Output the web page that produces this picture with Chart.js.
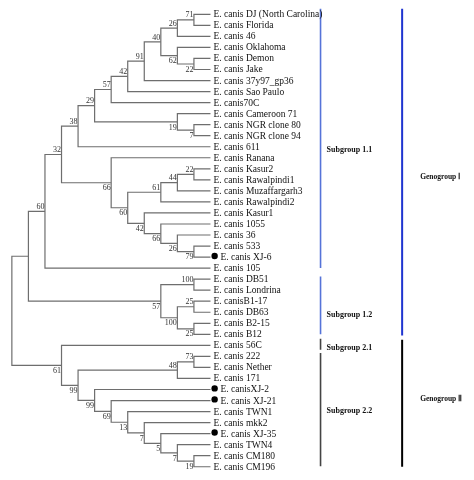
<!DOCTYPE html>
<html>
<head>
<meta charset="utf-8">
<script src="https://cdn.jsdelivr.net/npm/chart.js@4.4.0/dist/chart.umd.min.js"></script>
<style>
html, body { margin: 0; padding: 0; background: #fff; }
#wrap { width: 474px; height: 480px; }
</style>
</head>
<body>
<div id="wrap"><canvas id="tree"></canvas></div>
<script>
// Tip labels, top to bottom (row index = position on the y axis)
const leaves = [
    'E. canis DJ (North Carolina)', 'E. canis Florida', 'E. canis 46', 'E. canis Oklahoma',
    'E. canis Demon', 'E. canis Jake', 'E. canis 37y97_gp36', 'E. canis Sao Paulo',
    'E. canis70C', 'E. canis Cameroon 71', 'E. canis NGR clone 80', 'E. canis NGR clone 94',
    'E. canis 611', 'E. canis Ranana', 'E. canis Kasur2', 'E. canis Rawalpindi1',
    'E. canis Muzaffargarh3', 'E. canis Rawalpindi2', 'E. canis Kasur1', 'E. canis 1055',
    'E. canis 36', 'E. canis 533', 'E. canis XJ-6', 'E. canis 105',
    'E. canis DB51', 'E. canis Londrina', 'E. canisB1-17', 'E. canis DB63',
    'E. canis B2-15', 'E. canis B12', 'E. canis 56C', 'E. canis 222',
    'E. canis Nether', 'E. canis 171', 'E. canisXJ-2', 'E. canis XJ-21',
    'E. canis TWN1', 'E. canis mkk2', 'E. canis XJ-35', 'E. canis TWN4',
    'E. canis CM180', 'E. canis CM196'
];

// Strains marked with a black dot
const marked = [22, 34, 35, 38];

// Clades in post-order: [id, child A, child B, bootstrap, label side]
// a child is a leaf row (number) or a clade id (string)
const clades = [
    ['c71', 0, 1, 71, 'up'],
    ['c26', 'c71', 2, 26, 'up'],
    ['c22a', 4, 5, 22, 'down'],
    ['c62', 3, 'c22a', 62, 'down'],
    ['c40', 'c26', 'c62', 40, 'up'],
    ['c91', 'c40', 6, 91, 'up'],
    ['c42a', 'c91', 7, 42, 'up'],
    ['c57a', 'c42a', 8, 57, 'up'],
    ['c7a', 10, 11, 7, 'down'],
    ['c19a', 9, 'c7a', 19, 'down'],
    ['c29', 'c57a', 'c19a', 29, 'up'],
    ['c38', 'c29', 12, 38, 'up'],
    ['c22b', 14, 15, 22, 'up'],
    ['c44', 'c22b', 16, 44, 'up'],
    ['c61a', 'c44', 17, 61, 'up'],
    ['c79', 21, 22, 79, 'down'],
    ['c26b', 20, 'c79', 26, 'down'],
    ['c66b', 19, 'c26b', 66, 'down'],
    ['c42b', 18, 'c66b', 42, 'down'],
    ['c60b', 'c61a', 'c42b', 60, 'down'],
    ['c66a', 13, 'c60b', 66, 'down'],
    ['c32', 'c38', 'c66a', 32, 'up'],
    ['c60a', 'c32', 23, 60, 'up'],
    ['c100a', 24, 25, 100, 'up'],
    ['c25a', 26, 27, 25, 'up'],
    ['c25b', 28, 29, 25, 'down'],
    ['c100b', 'c25a', 'c25b', 100, 'down'],
    ['c57b', 'c100a', 'c100b', 57, 'down'],
    ['cG1', 'c60a', 'c57b', null, null],
    ['c73', 31, 32, 73, 'up'],
    ['c48', 'c73', 33, 48, 'up'],
    ['c19b', 40, 41, 19, 'down'],
    ['c7b', 39, 'c19b', 7, 'down'],
    ['c5', 38, 'c7b', 5, 'down'],
    ['c7c', 37, 'c5', 7, 'down'],
    ['c13', 36, 'c7c', 13, 'down'],
    ['c69', 35, 'c13', 69, 'down'],
    ['c99b', 34, 'c69', 99, 'down'],
    ['c99a', 'c48', 'c99b', 99, 'down'],
    ['c61b', 30, 'c99a', 61, 'down'],
    ['root', 'cG1', 'c61b', null, null]
];

// Group brackets on the right (extent and label in leaf rows)
const groupNames = ['Subgroup 1.1', 'Subgroup 1.2', 'Subgroup 2.1', 'Subgroup 2.2', 'Genogroup Ⅰ', 'Genogroup Ⅱ'];
const groupFrom = [-0.5, 23.75, 29.4, 30.7, -0.5, 29.5];
const groupTo = [23, 29, 30.4, 40.95, 29.1, 41];
const groupLabelRow = [12.3, 27.2, 30.25, 35.9, 14.75, 34.9];
const groupLevel = [1, 1, 1, 1, 2, 2];

// styles / layout
const TREE_COLOR = '#6e6e6e';
const GROUP_COLORS = ['#5573d8', '#5573d8', '#444444', '#444444', '#1f35d0', '#000000'];
const BAR_X = { 1: 18.65, 2: 23.58 };
const LABEL_DX = { 1: 6, 2: 18 };
const LABEL_FONT = { 1: 'bold 8px ', 2: 'bold 7.5px ' };
const SERIF = '"Liberation Serif", "Times New Roman", serif';

// build node heights (cladogram) and row positions
const info = {};
function node(k) {
    return typeof k === 'number' ? { h: 0, y: k } : info[k];
}
clades.forEach(([id, a, b, boot, side]) => {
    const na = node(a), nb = node(b);
    info[id] = { h: Math.max(na.h, nb.h) + 1, y: (na.y + nb.y) / 2, a: na, b: nb, boot: boot, side: side };
});
const rootH = info.root.h;
const X = n => rootH - n.h;

const treeSets = clades.map(([id]) => {
    const n = info[id];
    return {
        data: [
            { x: X(n.a), y: n.a.y },
            { x: X(n), y: n.a.y },
            { x: X(n), y: n.b.y },
            { x: X(n.b), y: n.b.y }
        ],
        showLine: true,
        borderColor: TREE_COLOR,
        borderWidth: 1.2,
        pointRadius: 0,
        tension: 0
    };
});

const groupSets = groupNames.map((g, i) => ({
    data: [
        { x: BAR_X[groupLevel[i]], y: groupFrom[i] },
        { x: BAR_X[groupLevel[i]], y: groupTo[i] }
    ],
    showLine: true,
    borderColor: GROUP_COLORS[i],
    borderWidth: groupLevel[i] === 2 ? 2 : 1.6,
    pointRadius: 0
}));

const dotSet = {
    data: marked.map(i => ({ x: rootH + 0.25, y: i - 0.1 })),
    showLine: false,
    pointRadius: 3.2,
    pointBackgroundColor: '#000',
    pointBorderWidth: 0
};

const treeText = {
    id: 'treeText',
    afterDatasetsDraw(chart) {
        const { ctx, scales } = chart;
        const sx = scales.x, sy = scales.y;
        ctx.save();

        // tip labels
        ctx.font = '9.5px ' + SERIF;
        ctx.fillStyle = '#111';
        ctx.textAlign = 'left';
        ctx.textBaseline = 'middle';
        leaves.forEach((name, i) => {
            const dx = marked.includes(i) ? 10 : 3;
            ctx.fillText(name, sx.getPixelForValue(rootH) + dx, sy.getPixelForValue(i) + 0.5);
        });

        // bootstrap values
        ctx.font = '8px ' + SERIF;
        ctx.fillStyle = '#333';
        ctx.textAlign = 'right';
        clades.forEach(([id]) => {
            const n = info[id];
            if (n.boot === null) return;
            const px = sx.getPixelForValue(X(n)) - 0.5;
            const py = sy.getPixelForValue(n.y) + (n.side === 'up' ? -4.5 : 5.5);
            ctx.fillText(String(n.boot), px, py);
        });

        // group labels
        ctx.fillStyle = '#111';
        ctx.textAlign = 'left';
        groupNames.forEach((g, i) => {
            const lv = groupLevel[i];
            ctx.font = LABEL_FONT[lv] + SERIF;
            ctx.fillText(g, sx.getPixelForValue(BAR_X[lv]) + LABEL_DX[lv], sy.getPixelForValue(groupLabelRow[i]));
        });
        ctx.restore();
    }
};

new Chart(document.getElementById('tree'), {
    type: 'scatter',
    data: { datasets: treeSets.concat(groupSets, [dotSet]) },
    options: {
        responsive: true,
        maintainAspectRatio: false,
        animation: false,
        layout: { padding: 0 },
        plugins: {
            legend: { display: false },
            tooltip: { enabled: false }
        },
        scales: {
            x: { type: 'linear', display: false, min: -0.475, max: 27.68 },
            y: { type: 'linear', display: false, reverse: true, min: -0.936, max: 41.84 }
        }
    },
    plugins: [treeText]
});
</script>
</body>
</html>
